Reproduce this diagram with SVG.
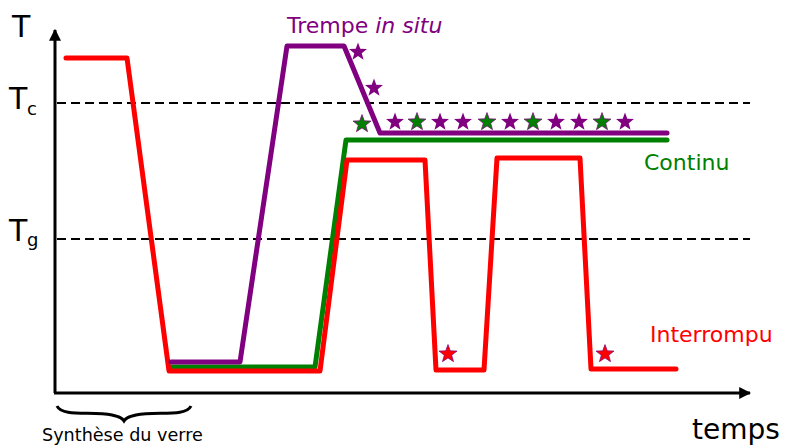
<svg xmlns="http://www.w3.org/2000/svg" width="786" height="445" viewBox="0 0 786 445">
<style>
text{font-family:"DejaVu Sans",sans-serif}
.ax{stroke:#000;stroke-width:3;fill:none}
.dash{stroke:#000;stroke-width:2;stroke-dasharray:9 5;fill:none}
.curve{fill:none;stroke-width:5;stroke-linejoin:round;stroke-linecap:round}
.sp{fill:#800080}
.sg{fill:#008000;stroke:#800080;stroke-width:0.6}
.sr{fill:#ff0000;stroke:#800080;stroke-width:0.6}
</style>
<defs>
<path id="star" transform="scale(1.18)" d="M0,-8 L1.94,-2.67 L7.61,-2.47 L3.14,1.02 L4.7,6.47 L0,3.3 L-4.7,6.47 L-3.14,1.02 L-7.61,-2.47 L-1.94,-2.67 Z"/>
<marker id="arr" viewBox="0 0 10 10" refX="9" refY="5" markerWidth="4" markerHeight="4" orient="auto" markerUnits="strokeWidth">
<path d="M0,0 L10,5 L0,10 Z" fill="#000"/>
</marker>
</defs>
<rect width="786" height="445" fill="#fff"/>
<g id="axes">
<line class="ax" x1="55" y1="393" x2="55" y2="30" marker-end="url(#arr)"/>
<line class="ax" x1="54" y1="393" x2="750" y2="393" marker-end="url(#arr)"/>
<line class="dash" x1="57" y1="103" x2="750" y2="103"/>
<line class="dash" x1="57" y1="239" x2="750" y2="239"/>
<text x="12" y="37" font-size="30">T</text>
<text x="9" y="109" font-size="30">T</text>
<text x="27" y="115" font-size="18">c</text>
<text x="9" y="241" font-size="30">T</text>
<text x="27" y="246" font-size="18">g</text>
<text x="692" y="439" font-size="28">temps</text>
<path d="M57,406 C62,417 92,411 112,415 C120,417 122,418 124,421 C126,418 128,417 136,415 C156,411 186,417 191,406" fill="none" stroke="#000" stroke-width="3"/>
<text x="42" y="441" font-size="17.6">Synthèse du verre</text>
</g>
<g id="curves">
<path id="continu" class="curve" stroke="#008000" d="M170,367 L315,367 L346,140 L667,140"/>
<path id="interrompu" class="curve" stroke="#ff0000" d="M66,58 L127,58 L169,371 L320,371 L347,160 L425,160 L436,370 L484,370 L497,158 L580,158 L591,369 L676,369"/>
<path id="trempe" class="curve" stroke="#800080" d="M171,362 L240,362 L287,46 L344,46 L380,133 L667,133"/>
</g>
<g id="stars">
<use href="#star" class="sp" x="358" y="52"/>
<use href="#star" class="sp" x="374" y="88"/>
<use href="#star" class="sg" x="362" y="124"/>
<use href="#star" class="sp" x="395" y="122"/>
<use href="#star" class="sg" x="417" y="122"/>
<use href="#star" class="sp" x="440" y="122"/>
<use href="#star" class="sp" x="463" y="122"/>
<use href="#star" class="sg" x="487" y="122"/>
<use href="#star" class="sp" x="510" y="122"/>
<use href="#star" class="sg" x="533" y="122"/>
<use href="#star" class="sp" x="556" y="122"/>
<use href="#star" class="sp" x="579" y="122"/>
<use href="#star" class="sg" x="602" y="122"/>
<use href="#star" class="sp" x="625" y="122"/>
<use href="#star" class="sr" x="448" y="354"/>
<use href="#star" class="sr" x="605" y="354"/>
</g>
<g id="labels">
<text x="287" y="33" font-size="22" fill="#800080">Trempe <tspan font-style="italic">in situ</tspan></text>
<text x="644" y="170" font-size="22" fill="#008000">Continu</text>
<text x="650" y="342" font-size="22" fill="#ff0000">Interrompu</text>
</g>
</svg>
